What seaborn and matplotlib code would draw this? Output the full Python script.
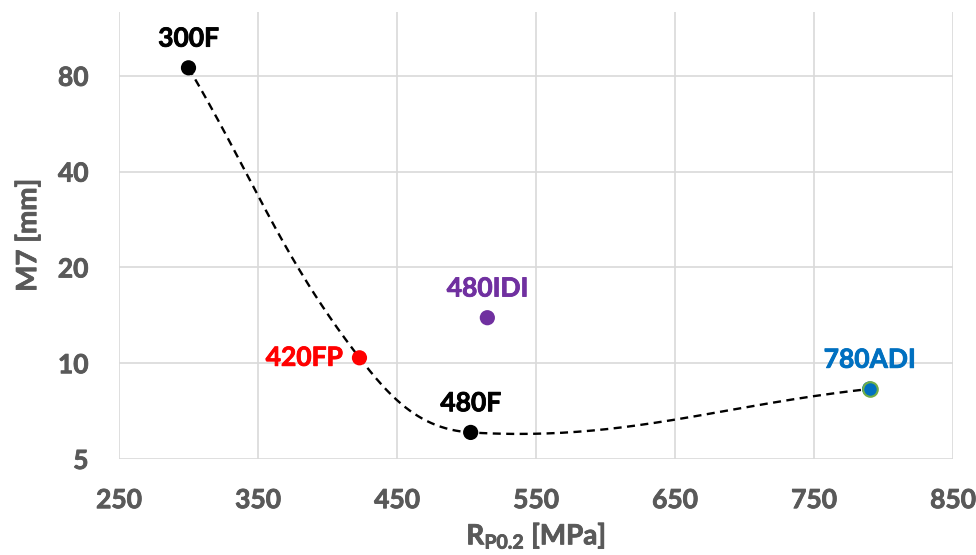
import numpy as np
import pandas as pd
import seaborn as sns
import matplotlib.pyplot as plt
import matplotlib.patheffects as pe
from matplotlib.text import Text
from matplotlib.ticker import FixedLocator, NullLocator

# values
grades = ["300F", "420FP", "480F", "480IDI", "780ADI"]
rp02 = [300, 423, 503, 515, 790]          # MPa
m7 = [84.8, 10.4, 6.06, 13.9, 8.3]        # mm
colors = ["#000000", "#FF0000", "#000000", "#7030A0", "#0070C0"]
trend = ["300F", "420FP", "480F", "780ADI"]   # grades joined by the dashed line

x_ticks = [250, 350, 450, 550, 650, 750, 850]
y_ticks = [5, 10, 20, 40, 80]

df = pd.DataFrame({"grade": grades, "rp": rp02, "m7": m7})


def smooth_line(xs, ys, k=0.38, n=80):
    # Excel-like smoothed line, built in roughly pixel-proportional space
    sx, sy = 1.39, 96.5
    p = np.column_stack([np.asarray(xs) * sx, np.log2(ys) * sy])
    m = len(p)
    tang = []
    for i in range(m):
        d = p[min(i + 1, m - 1)] - p[max(i - 1, 0)]
        tang.append(d / np.linalg.norm(d))
    t = np.linspace(0, 1, n)[:, None]
    out = []
    for i in range(m - 1):
        p1, p2 = p[i], p[i + 1]
        L = np.linalg.norm(p2 - p1) * k
        c1 = p1 + tang[i] * L
        c2 = p2 - tang[i + 1] * L
        seg = ((1 - t) ** 3) * p1 + 3 * ((1 - t) ** 2) * t * c1 + 3 * (1 - t) * t ** 2 * c2 + t ** 3 * p2
        out.append(seg if i == 0 else seg[1:])
    out = np.vstack(out)
    return out[:, 0] / sx, 2 ** (out[:, 1] / sy)


sns.set_theme(style="white")
plt.rcParams["font.family"] = ["Lato", "DejaVu Sans"]
plt.rcParams["font.weight"] = "bold"
plt.rcParams["mathtext.fontset"] = "custom"
plt.rcParams["mathtext.bf"] = "Lato:bold"
plt.rcParams["mathtext.rm"] = "Lato:bold"

fig = plt.figure(figsize=(9.76, 5.55), dpi=100)
ax = fig.add_axes([119 / 976, 1 - 459 / 555, (953 - 119) / 976, (459 - 12) / 555])

ax.set_yscale("log", base=2)
ax.set_xlim(250, 850)
ax.set_ylim(5, 127)

tr = df.set_index("grade").loc[trend]
cx, cy = smooth_line(tr["rp"].values, tr["m7"].values)
curve = pd.DataFrame({"x": cx, "y": cy})
sns.lineplot(data=curve, x="x", y="y", sort=False, estimator=None, ax=ax,
             color="black", linewidth=1.7, linestyle=(0, (3.4, 2.3)), zorder=2)

sns.scatterplot(data=df, x="rp", y="m7", hue="grade", palette=dict(zip(grades, colors)),
                s=120, linewidth=0, legend=False, ax=ax, zorder=3)
# the 780ADI point has a green rim
adi = df[df.grade == "780ADI"]
ax.scatter(adi.rp, adi.m7, s=110, facecolor="#0070C0", edgecolor="#70AD47", linewidth=1.5, zorder=4)

for g, x, y, c in zip(grades, rp02, m7, colors):
    if g == "420FP":
        ax.annotate(g, (x, y), xytext=(-12, 0), textcoords="offset points",
                    ha="right", va="center", color=c, fontsize=19, fontweight="bold")
    else:
        ax.annotate(g, (x, y), xytext=(0, 21), textcoords="offset points",
                    ha="center", va="center", color=c, fontsize=19, fontweight="bold")

ax.xaxis.set_major_locator(FixedLocator(x_ticks))
ax.yaxis.set_major_locator(FixedLocator(y_ticks))
ax.yaxis.set_minor_locator(NullLocator())
ax.set_xticklabels([str(v) for v in x_ticks])
ax.set_yticklabels([str(v) for v in y_ticks])
ax.tick_params(axis="both", length=0, labelsize=19, labelcolor="#595959")
ax.tick_params(axis="x", pad=21)
ax.tick_params(axis="y", pad=22)
for lab in ax.get_xticklabels() + ax.get_yticklabels():
    lab.set_fontweight("bold")

ax.grid(True, color="#D9D9D9", linewidth=1.2)
for s in ax.spines.values():
    s.set_visible(False)

ax.set_xlabel(r"$\mathbf{R_{P0.2}}$ [MPa]", fontsize=20, fontweight="bold", color="#595959", labelpad=6)
ax.set_ylabel("M7 [mm]", fontsize=20, fontweight="bold", color="#595959", labelpad=12)

# thicken strokes a little, Calibri bold is heavier than Lato bold
for t in fig.findobj(Text):
    t.set_path_effects([pe.withStroke(linewidth=0.6, foreground=t.get_color())])

fig.savefig("out.png", dpi=100)
